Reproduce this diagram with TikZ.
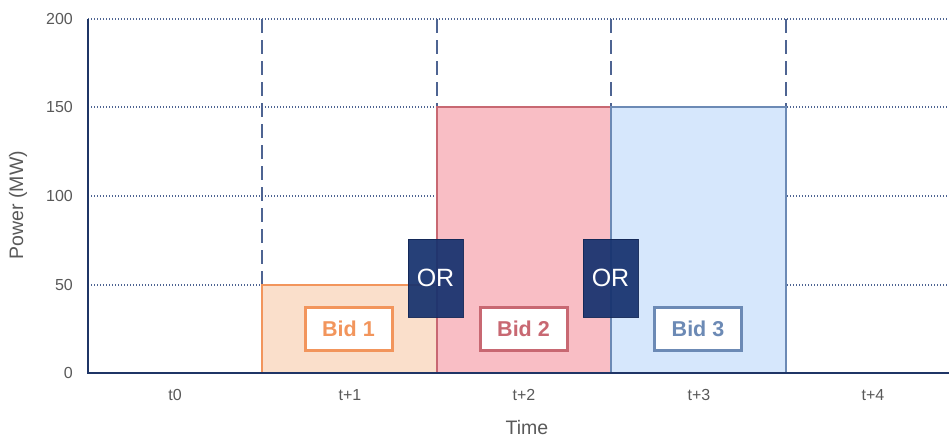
\documentclass[tikz,border=0pt]{standalone}
\usepackage{fontspec}
\setmainfont{Liberation Sans}
\begin{document}
\begin{tikzpicture}[x=1pt,y=-1pt,
  axisline/.style={draw=axisblue,line width=1.6pt},
  gridline/.style={draw=gridblue,line width=1.4pt,dash pattern=on 1.4pt off 1.6pt},
  slotline/.style={draw=gridblue,line width=1.4pt,dash pattern=on 14pt off 7pt},
  ticklabel/.style={text=tickgray,font=\fontsize{16}{18}\selectfont,inner sep=0pt},
  titlelabel/.style={text=tickgray,font=\fontsize{19.5}{22}\selectfont,inner sep=0pt},
  bidbox/.style={draw=#1,fill=white,line width=3pt,text=#1,
     font=\bfseries\fontsize{21.5}{24}\selectfont,minimum width=87pt,minimum height=43pt,inner sep=0pt},
  orbox/.style={draw=orline,fill=orblue,fill opacity=0.93,draw opacity=0.93,text opacity=1,
     text=white,line width=0.8pt,font=\fontsize{25}{27}\selectfont,minimum width=55pt,minimum height=78pt,inner sep=0pt}]
\definecolor{axisblue}{HTML}{1F3566}
\definecolor{gridblue}{HTML}{4E6492}
\definecolor{tickgray}{HTML}{595959}
\definecolor{orblue}{HTML}{16326E}
\definecolor{orline}{HTML}{132857}
\definecolor{oneline}{HTML}{F2955C}
\definecolor{onefill}{HTML}{FADFCB}
\definecolor{twoline}{HTML}{C86872}
\definecolor{twofill}{HTML}{F9BEC5}
\definecolor{threeline}{HTML}{6C8AB5}
\definecolor{threefill}{HTML}{D6E7FC}

\useasboundingbox (0,0) rectangle (949,439);

% horizontal grid
\foreach \yy in {19,107,196,285}
  \draw[gridline] (88,\yy) -- (949,\yy);

% time-slot separators above the bids
\draw[slotline] (262,19) -- (262,285);
\draw[slotline] (437,19) -- (437,107);
\draw[slotline] (611,19) -- (611,107);
\draw[slotline] (786,19) -- (786,107);

% bid blocks
\draw[fill=onefill,draw=oneline,line width=2.4pt] (262,373) rectangle (437,285);
\draw[fill=twofill,draw=twoline,line width=2.4pt] (437,373) rectangle (611,107);
\draw[fill=threefill,draw=threeline,line width=2.4pt] (611,373) rectangle (786,107);

% axes
\draw[axisline] (88,19) -- (88,373) -- (949,373);

% y ticks
\node[ticklabel,anchor=east] (y200) at (73,19) {200};
\node[ticklabel,anchor=east] (y150) at (73,107) {150};
\node[ticklabel,anchor=east] (y100) at (73,196) {100};
\node[ticklabel,anchor=east] (y50) at (73,285) {50};
\node[ticklabel,anchor=east] (y0) at (73,373) {0};

% x ticks
\node[ticklabel] (t0) at (175,395) {t0};
\node[ticklabel] (t1) at (350,395) {t+1};
\node[ticklabel] (t2) at (524,395) {t+2};
\node[ticklabel] (t3) at (699,395) {t+3};
\node[ticklabel] (t4) at (873,395) {t+4};

% axis titles
\node[titlelabel] (xtitle) at (527,428) {Time};
\node[titlelabel,rotate=90] (ytitle) at (18,205) {Power (MW)};

% bid labels
\node[bidbox=oneline] (bid1) at (348.5,328.5) {Bid 1};
\node[bidbox=twoline] (bid2) at (523.5,328.5) {Bid 2};
\node[bidbox=threeline] (bid3) at (698,328.5) {Bid 3};

% alternatives
\node[orbox] (or1) at (435.5,278) {OR};
\node[orbox] (or2) at (610.5,278) {OR};
\end{tikzpicture}
\end{document}
